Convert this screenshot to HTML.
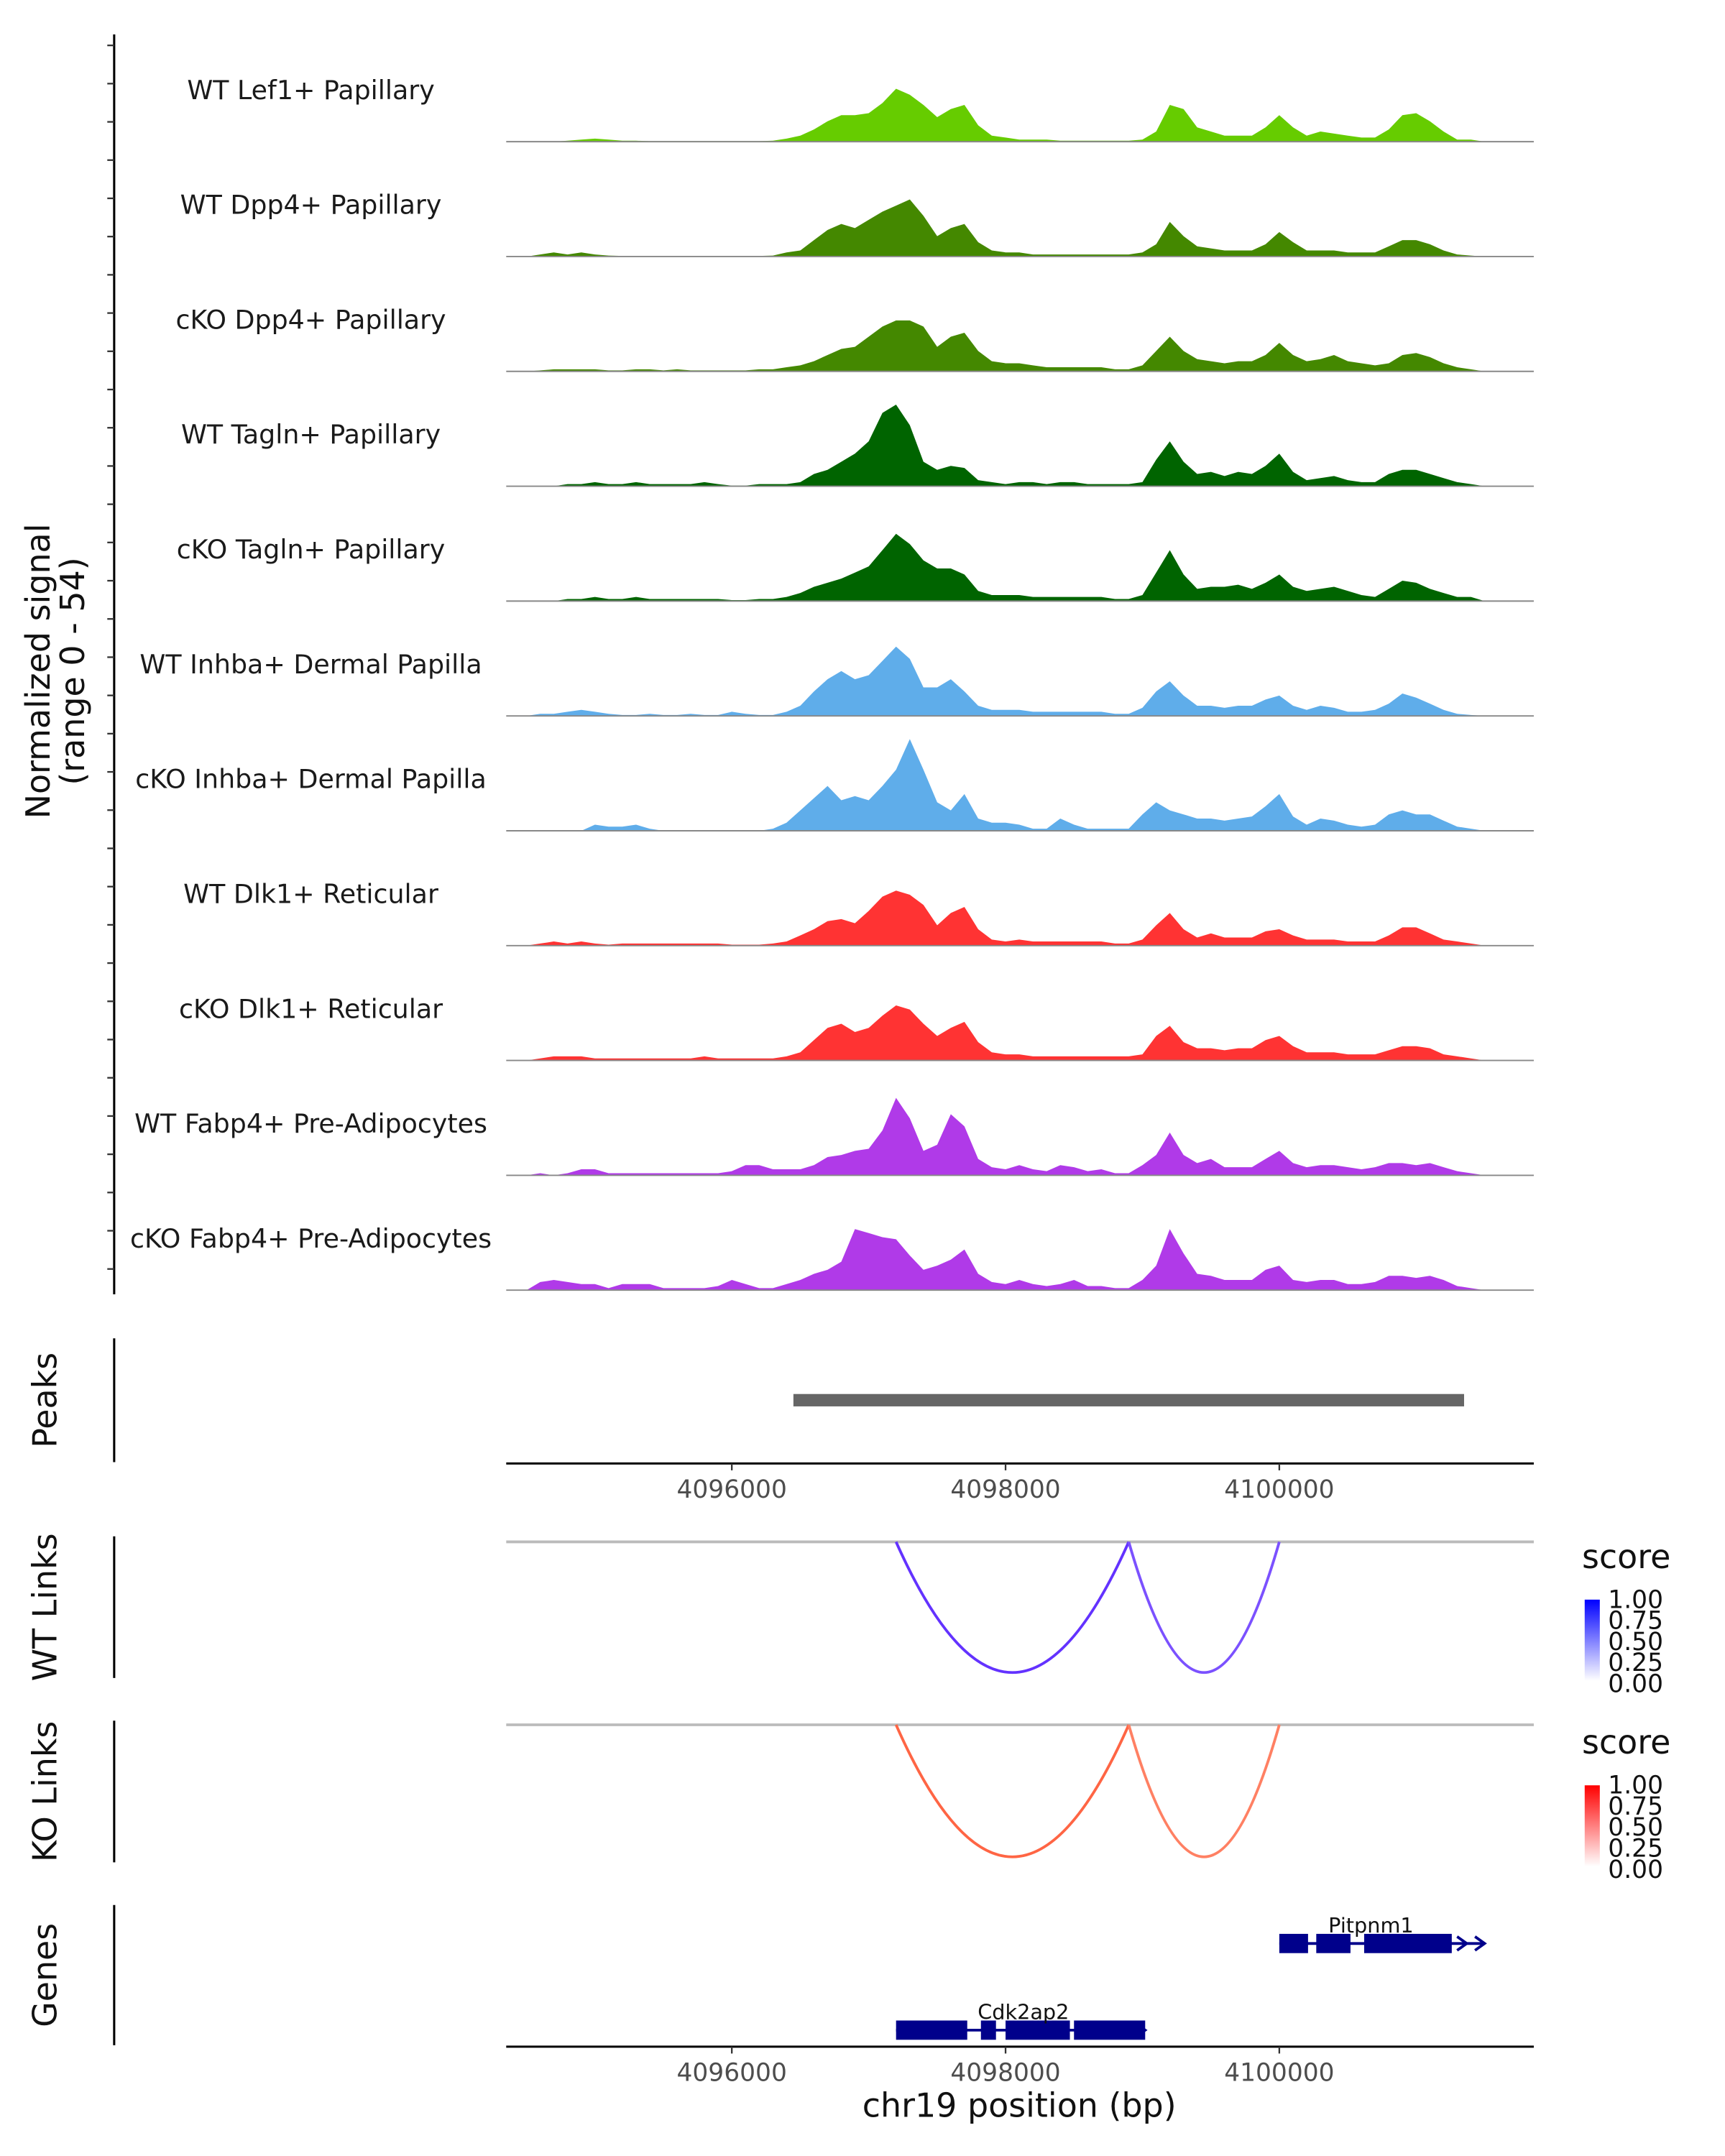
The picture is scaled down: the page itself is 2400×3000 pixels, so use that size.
<!DOCTYPE html>
<html><head><meta charset="utf-8"><style>
html,body{margin:0;padding:0;background:#fff;width:2400px;height:3000px;overflow:hidden}
svg{display:block;font-family:"DejaVu Sans","Liberation Sans",sans-serif}
</style></head><body>
<svg id="chart" width="2400" height="3000" viewBox="0 0 1254 1567.5" preserveAspectRatio="none" xmlns="http://www.w3.org/2000/svg">
<defs>
<linearGradient id="gBlue" x1="0" y1="1" x2="0" y2="0"><stop offset="0" stop-color="#ffffff"/><stop offset="1" stop-color="#0000ff"/></linearGradient>
<linearGradient id="gRed" x1="0" y1="1" x2="0" y2="0"><stop offset="0" stop-color="#ffffff"/><stop offset="1" stop-color="#ff0000"/></linearGradient>
</defs>
<g id="root"></g>
</svg>
<script>
const trackNames = ["WT Lef1+ Papillary","WT Dpp4+ Papillary","cKO Dpp4+ Papillary","WT Tagln+ Papillary","cKO Tagln+ Papillary","WT Inhba+ Dermal Papilla","cKO Inhba+ Dermal Papilla","WT Dlk1+ Reticular","cKO Dlk1+ Reticular","WT Fabp4+ Pre-Adipocytes","cKO Fabp4+ Pre-Adipocytes"];
const trackColors = ["#66cc00","#448800","#448800","#006400","#006400","#5fadea","#5fadea","#ff3333","#ff3333","#b03ae8","#b03ae8"];
const binStart = 4094600;
const binStep = 100;
const sLef1 = [0,0,0.5,1,1.5,1,0.5,0.5,0.3,0.3,0.3,0.3,0.3,0.3,0.3,0.3,0.3,0.5,1.5,3,6,10,13,13,14,19,26,23,18,12,16,18,8,3,2,1,1,1,0.5,0.5,0.5,0.5,0.5,0.5,1,5,18,16,7,5,3,3,3,7,13,7,3,5,4,3,2,2,6,13,14,10,5,1,1];
const sDpp4WT = [1,2,1,2,1,0.5,0.3,0.3,0.3,0.3,0.3,0.3,0.3,0.3,0.3,0.3,0.3,0.5,2,3,8,13,16,14,18,22,25,28,20,10,14,16,7,3,2,2,1,1,1,1,1,1,1,1,2,6,17,10,5,4,3,3,3,6,12,7,3,3,3,2,2,2,5,8,8,6,3,1,0.5];
const sDpp4KO = [0.5,1,1,1,1,0.5,0.5,1,1,0.5,1,0.5,0.5,0.5,0.5,0.5,1,1,2,3,5,8,11,12,17,22,25,25,22,12,17,19,10,5,4,4,3,2,2,2,2,2,1,1,3,10,17,10,6,5,4,5,5,8,14,8,5,6,8,5,4,3,4,8,9,7,4,2,1];
const sTaglnWT = [0,0,1,1,2,1,1,2,1,1,1,1,2,1,0.3,0.3,1,1,1,2,6,8,12,16,22,36,40,30,12,8,10,9,3,2,1,2,2,1,2,2,1,1,1,1,2,13,22,12,6,7,5,7,6,10,16,7,3,4,5,3,2,2,6,8,8,6,4,2,1];
const sTaglnKO = [0,0,1,1,2,1,1,2,1,1,1,1,1,1,0.5,0.5,1,1,2,4,7,9,11,14,17,25,33,28,20,16,16,13,5,3,3,3,2,2,2,2,2,2,1,1,3,14,25,13,6,7,7,8,6,9,13,7,5,6,7,5,3,2,6,10,9,6,4,2,2];
const sInhbaWT = [1,1,2,3,2,1,0.5,0.5,1,0.5,0.5,1,0.5,0.5,2,1,0.5,0.5,2,5,12,18,22,18,20,27,34,28,14,14,18,12,5,3,3,3,2,2,2,2,2,2,1,1,4,12,17,10,5,5,4,5,5,8,10,5,3,5,4,2,2,3,6,11,9,6,3,1,0.5];
const sInhbaKO = [0,0,0,0,3,2,2,3,1,0,0,0,0,0,0,0,0,1,4,10,16,22,15,17,15,22,30,45,30,14,10,18,6,4,4,3,1,1,6,3,1,1,1,1,8,14,10,8,6,6,5,6,7,12,18,7,3,6,5,3,2,3,8,10,8,8,5,2,1];
const sDlk1WT = [1,2,1,2,1,0.5,1,1,1,1,1,1,1,1,0.5,0.5,0.5,1,2,5,8,12,13,11,17,24,27,25,20,10,16,19,8,3,2,3,2,2,2,2,2,2,1,1,3,10,16,8,4,6,4,4,4,7,8,5,3,3,3,2,2,2,5,9,9,6,3,2,1];
const sDlk1KO = [1,2,2,2,1,1,1,1,1,1,1,1,2,1,1,1,1,1,2,4,10,16,18,14,16,22,27,25,18,12,16,19,9,4,3,3,2,2,2,2,2,2,2,2,3,12,17,9,6,6,5,6,6,10,12,7,4,4,4,3,3,3,5,7,7,6,3,2,1];
const sFabp4WT = [1,0,1,3,3,1,1,1,1,1,1,1,1,1,2,5,5,3,3,3,5,9,10,12,13,22,38,28,12,15,30,24,8,4,3,5,3,2,5,4,2,3,1,1,5,10,21,10,6,8,4,4,4,8,12,6,4,5,5,4,3,4,6,6,5,6,4,2,1];
const sFabp4KO = [4,5,4,3,3,1,3,3,3,1,1,1,1,2,5,3,1,1,3,5,8,10,14,30,28,26,25,17,10,12,15,20,8,4,3,5,3,2,3,5,2,2,1,1,5,12,30,18,8,7,5,5,5,10,12,5,4,5,5,3,3,4,7,7,6,7,5,2,1];
const allSignals = [sLef1,sDpp4WT,sDpp4KO,sTaglnWT,sTaglnKO,sInhbaWT,sInhbaKO,sDlk1WT,sDlk1KO,sFabp4WT,sFabp4KO];
const xTicks = [4096000,4098000,4100000];
const peakRange = [4096450,4101350];
const wtLinks = [[4097200,4098900,0.72],[4098900,4100000,0.55]];
const koLinks = [[4097200,4098900,0.62],[4098900,4100000,0.45]];
const legendTicks = ["1.00","0.75","0.50","0.25","0.00"];
const genePit = {name:"Pitpnm1",start:4100000,end:4101500,exons:[[4100000,4100210],[4100270,4100520],[4100620,4101260]]};
const geneCdk = {name:"Cdk2ap2",start:4097200,end:4099020,exons:[[4097200,4097720],[4097820,4097930],[4098000,4098470],[4098500,4099020]]};

const NS="http://www.w3.org/2000/svg";
const root=document.getElementById('root');
function el(tag,attrs,parent,text){const e=document.createElementNS(NS,tag);for(const k in attrs)e.setAttribute(k,attrs[k]);if(text!==undefined)e.textContent=text;(parent||root).appendChild(e);return e;}
const X0=368,X1=1115;
function xs(bp){return 532+(bp-4096000)*199/2000;}
const trackH=83.5, base0=103, maxY=54;
function ys(v,base){return base-v*80/maxY;}

let a=el('line',{x1:83,y1:25,x2:83,y2:941,stroke:'#000','stroke-width':1.6});


for(let y=33;y<=940;y+=27.8){let t=el('line',{x1:78,y1:y,x2:83,y2:y,stroke:'#333','stroke-width':1.2});}
let yl=el('text',{x:0,y:0,transform:'translate(42,488) rotate(-90)','text-anchor':'middle','font-size':24,fill:'#111'});


el('tspan',{x:0,dy:-6},yl,'Normalized signal');
el('tspan',{x:0,dy:25},yl,'(range 0 - 54)');

allSignals.forEach((s,ti)=>{
  const base=base0+ti*trackH;
  let d='M'+xs(binStart-100)+','+base;
  s.forEach((v,i)=>{d+=' L'+xs(binStart+i*binStep).toFixed(1)+','+ys(v,base).toFixed(1);});
  d+=' L'+xs(binStart+s.length*binStep)+','+base+' Z';
  let p=el('path',{d:d,fill:trackColors[ti],stroke:'none'});
  
  
  let bl=el('line',{x1:X0,y1:base,x2:X1,y2:base,stroke:'#888','stroke-width':1});
  
  
  let lb=el('text',{x:226,y:base-31,'text-anchor':'middle','font-size':19,fill:'#1a1a1a'},root,trackNames[ti]);
  
  
});

function panelAxis(y1,y2,label,name){
  let l=el('line',{x1:83,y1:y1,x2:83,y2:y2,stroke:'#000','stroke-width':1.6});
  
  
  let t=el('text',{x:0,y:0,transform:'translate(41,'+((y1+y2)/2)+') rotate(-90)','text-anchor':'middle','font-size':24,fill:'#111'},root,label);
  
  
}
function xAxis(y,name){
  let l=el('line',{x1:X0,y1:y,x2:X1,y2:y,stroke:'#000','stroke-width':1.6});
  
  
  xTicks.forEach(v=>{
    let tk=el('line',{x1:xs(v),y1:y,x2:xs(v),y2:y+5,stroke:'#333','stroke-width':1.2});
    
    
    let tl=el('text',{x:xs(v),y:y+25,'text-anchor':'middle','font-size':18,fill:'#4d4d4d'},root,String(v));
    
    
  });
}
panelAxis(973,1063,'Peaks','peaks');
let pk=el('rect',{x:xs(peakRange[0]),y:1013.5,width:xs(peakRange[1])-xs(peakRange[0]),height:9,fill:'#666'});


xAxis(1064,'peaks-x-axis');

function links(top,bottom,data,c0,c1,name){
  let g=el('line',{x1:X0,y1:top,x2:X1,y2:top,stroke:'#bbb','stroke-width':2});
  
  
  data.forEach(lk=>{
    const xa=xs(lk[0]),xb=xs(lk[1]),xm=(xa+xb)/2;
    const depth=bottom-top;
    const cy=top+2*depth;
    const col=`rgb(${Math.round(c0[0]+(c1[0]-c0[0])*lk[2])},${Math.round(c0[1]+(c1[1]-c0[1])*lk[2])},${Math.round(c0[2]+(c1[2]-c0[2])*lk[2])})`;
    let p=el('path',{d:`M${xa},${top} Q${xm},${cy} ${xb},${top}`,fill:'none',stroke:col,'stroke-width':2});
    
    
  });
}
function legend(y,grad,name){
  let t=el('text',{x:1150,y:y,'font-size':24,fill:'#111'},root,'score');
  
  
  let r=el('rect',{x:1152,y:y+23,width:11,height:59,fill:'url(#'+grad+')'});
  
  
  legendTicks.forEach((lab,i)=>{
    let tx=el('text',{x:1169,y:y+29+i*15.3,'font-size':18,fill:'#111'},root,lab);
    
    
  });
}
panelAxis(1117,1220,'WT Links','wt-links');
links(1121,1216,wtLinks,[200,180,255],[60,0,255],'wt-link');
legend(1140,'gBlue','wt');
panelAxis(1251,1354,'KO Links','ko-links');
links(1254,1350,koLinks,[255,200,180],[255,40,0],'ko-link');
legend(1275,'gRed','ko');

panelAxis(1385,1487,'Genes','genes');
function gene(g,y,name){
  let l=el('line',{x1:xs(g.start),y1:y,x2:xs(g.end),y2:y,stroke:'#00008b','stroke-width':2});
  
  
  g.exons.forEach(e=>{
    let r=el('rect',{x:xs(e[0]),y:y-7,width:xs(e[1])-xs(e[0]),height:14,fill:'#00008b'});
    
    
  });
  const xe=xs(g.end);
  let ar=el('path',{d:`M${xe-7},${y-5} L${xe},${y} L${xe-7},${y+5} M${xe-20},${y-5} L${xe-13},${y} L${xe-20},${y+5}`,fill:'none',stroke:'#00008b','stroke-width':2});
  
  
  let t=el('text',{x:(xs(g.start)+xs(g.end))/2+(name==='pitpnm1'?-8:2),y:y-8,'text-anchor':'middle','font-size':15,fill:'#111'},root,g.name);
  
  
}
gene(genePit,1413,'pitpnm1');
gene(geneCdk,1476,'cdk2ap2');
xAxis(1488,'genes-x-axis');
let xt=el('text',{x:741,y:1539,'text-anchor':'middle','font-size':24,fill:'#111'},root,'chr19 position (bp)');


</script>
</body></html>
